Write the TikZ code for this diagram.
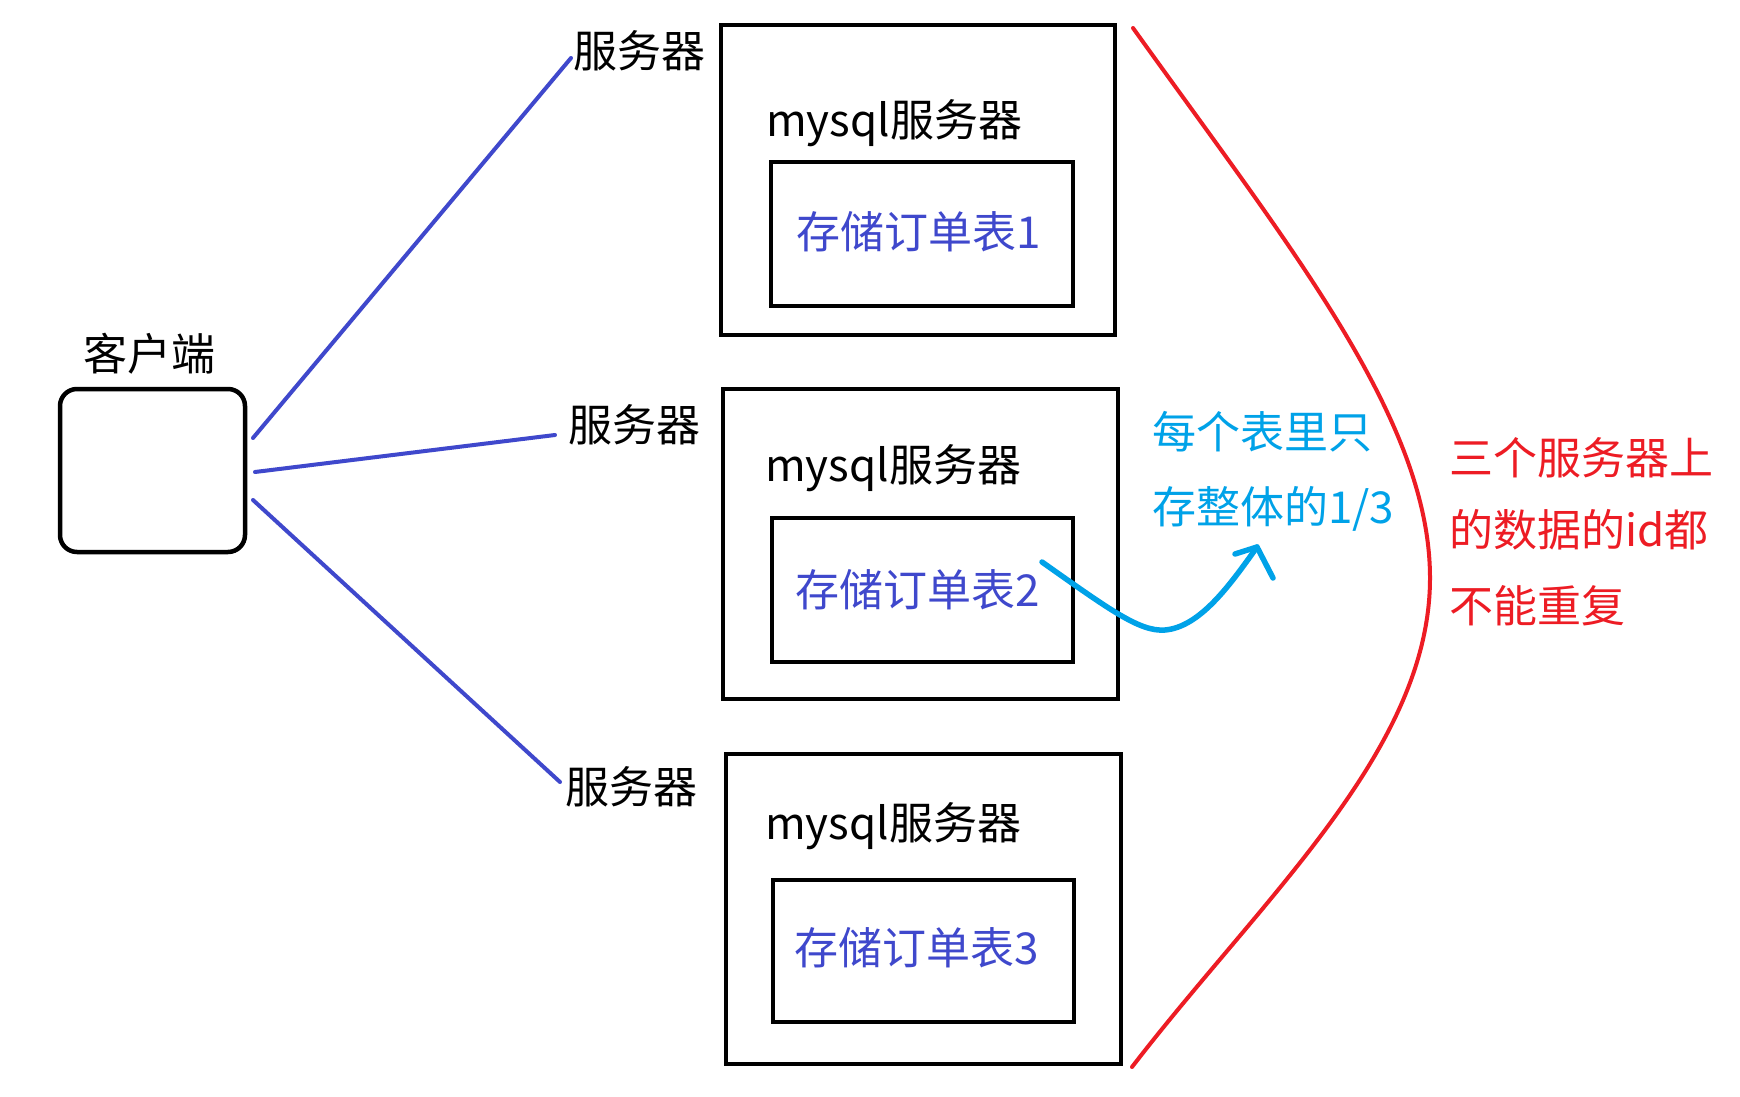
\documentclass[tikz,border=0pt]{standalone}
\usepackage{fontspec}
\setmainfont{Noto Sans CJK SC}
\usetikzlibrary{calc}
\definecolor{indigo}{RGB}{63,72,204}
\definecolor{turq}{RGB}{0,162,232}
\definecolor{pred}{RGB}{237,28,36}
\begin{document}
\begin{tikzpicture}[x=1pt,y=-1pt,
  txt/.style={anchor=base west, inner sep=0pt, outer sep=0pt, font=\fontsize{44}{52}\selectfont},
  boxframe/.style={draw=black, line width=4.5pt, inner sep=0pt, outer sep=0pt},
  link/.style={draw=indigo, line width=4pt, line cap=round},
  note/.style={draw=turq, line width=5.5pt, line cap=round, line join=round},
  bracket/.style={draw=pred, line width=4pt, line cap=round}]
\fill[white] (0,0) rectangle (1740,1097);
\useasboundingbox (0,0) rectangle (1740,1097);

% client
\node[boxframe, rounded corners=17pt, minimum width=185pt, minimum height=163pt] (client) at (152.5,470.5) {};
\node[txt] (clientlbl) at (83,370) {客户端};

% server frames
\node[boxframe, minimum width=394pt, minimum height=310pt] (srv1) at (918,180) {};
\node[boxframe, minimum width=302pt, minimum height=144pt] (tab1) at (922,234) {};
\node[boxframe, minimum width=395pt, minimum height=310pt] (srv2) at (920.5,544) {};
\node[boxframe, minimum width=301pt, minimum height=144pt] (tab2) at (922.5,590) {};
\node[boxframe, minimum width=395pt, minimum height=310pt] (srv3) at (923.5,909) {};
\node[boxframe, minimum width=301pt, minimum height=142pt] (tab3) at (923.5,951) {};

% texts in frames
\node[txt] (m1) at (766,137) {mysql服务器};
\node[txt] (m2) at (765,481) {mysql服务器};
\node[txt] (m3) at (765,839) {mysql服务器};
\node[txt, text=indigo] (t1) at (796,248) {存储订单表1};
\node[txt, text=indigo] (t2) at (795,606) {存储订单表2};
\node[txt, text=indigo] (t3) at (794,964) {存储订单表3};

% server labels
\node[txt] (s1) at (573,68) {服务器};
\node[txt] (s2) at (568,441) {服务器};
\node[txt] (s3) at (565,803) {服务器};

% connectors
\coordinate (e1) at (571,58);
\coordinate (e2) at (555,435);
\coordinate (e3) at (560,782);
\draw[link] ([shift={(8,-32.5)}]client.east) -- (e1);
\draw[link] ([shift={(10,1.5)}]client.east) -- (e2);
\draw[link] ([shift={(8,29.5)}]client.east) -- (e3);

% cyan note
\node[txt, text=turq] (n1) at (1152,448) {每个表里只};
\node[txt, text=turq] (n2) at (1152,523) {存整体的1/3};
\coordinate (a0) at (1042,562);
\coordinate (tip) at (1257,547);
\draw[note] (a0) .. controls (1110,610) and (1140,632) .. (1165,630)
  .. controls (1200,627) and (1230,585) .. (tip);
\draw[note] (1235,554) -- (tip) -- (1273,578);

% red bracket
\coordinate (b0) at (1133,28);
\coordinate (bm) at (1430,578);
\coordinate (b1) at (1132,1067);
\draw[bracket] (b0) .. controls (1292,250) and (1430,420) .. (bm)
  .. controls (1430,750) and (1262,898) .. (b1);
\node[txt, text=pred] (r1) at (1449,474) {三个服务器上};
\node[txt, text=pred] (r2) at (1449,546) {的数据的id都};
\node[txt, text=pred] (r3) at (1449,622) {不能重复};
\end{tikzpicture}
\end{document}
